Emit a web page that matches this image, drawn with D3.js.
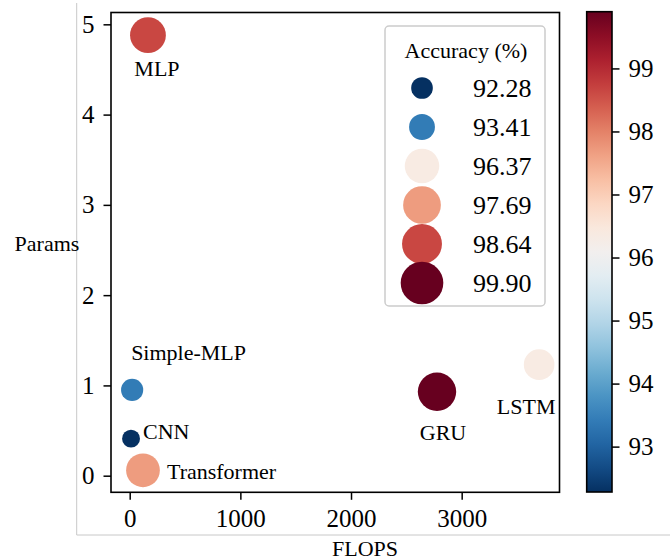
<!DOCTYPE html>
<html>
<head>
<meta charset="utf-8">
<script src="https://d3js.org/d3.v7.min.js"></script>
<style>
  body { margin: 0; background: #fff; }
  text { font-family: "Liberation Serif", "Times New Roman", serif; fill: #000; }
</style>
</head>
<body>
<div id="vis"></div>
<script>
  // models, their cost and accuracy
  var models = ["MLP", "Simple-MLP", "CNN", "Transformer", "GRU", "LSTM"]
  var flops = [165, 22, 12, 120, 2777, 3700]
  var params = [4.88, 0.95, 0.41, 0.06, 0.93, 1.23]
  var accuracy = [98.64, 93.41, 92.28, 97.69, 99.90, 96.37]

  var xTicks = [0, 1000, 2000, 3000]
  var yTicks = [0, 1, 2, 3, 4, 5]
  var cbarTicks = [93, 94, 95, 96, 97, 98, 99]
  var legendValues = [92.28, 93.41, 96.37, 97.69, 98.64, 99.90]

  var W = 670, H = 560
  var svg = d3.select("#vis").append("svg")
    .attr("width", W).attr("height", H)

  // axes box (note: "top" is reserved on window, so use ax* names)
  var axLeft = 111, axRight = 559.5, axTop = 12.5, axBottom = 492.3

  var x = d3.scaleLinear().domain([-169, 3884]).range([axLeft, axRight])
  var y = d3.scaleLinear().domain([-0.184, 5.131]).range([axBottom, axTop])

  var accMin = 92.28, accMax = 99.90
  var color = function(v) { return d3.interpolateRdBu(1 - (v - accMin) / (accMax - accMin)) }
  // marker area grows linearly with accuracy
  var area = d3.scaleLinear().domain([accMin, accMax]).range([80, 368])
  var legendArea = d3.scaleLinear().domain([accMin, accMax]).range([117, 454])

  // light outer frame
  svg.append("line").attr("x1", 76.7).attr("x2", 76.7).attr("y1", 3).attr("y2", 535)
    .attr("stroke", "#c8c8c8").attr("stroke-width", 1)
  svg.append("line").attr("x1", 76.7).attr("x2", W).attr("y1", 535).attr("y2", 535)
    .attr("stroke", "#c8c8c8").attr("stroke-width", 1)

  // axes
  var gx = svg.append("g").attr("transform", "translate(0," + axBottom + ")")
    .call(d3.axisBottom(x).tickValues(xTicks).tickFormat(d3.format("d")).tickSize(7.5).tickPadding(9))
  var gy = svg.append("g").attr("transform", "translate(" + axLeft + ",0)")
    .call(d3.axisLeft(y).tickValues(yTicks).tickFormat(d3.format("d")).tickSize(7.5).tickPadding(9))
  ;[gx, gy].forEach(function(g) {
    g.select(".domain").remove()
    g.selectAll("line").attr("stroke", "#000").attr("stroke-width", 1.5)
    g.selectAll("text").style("font-size", "25px").style("font-family", "'Liberation Serif', serif")
  })

  svg.append("rect").attr("x", axLeft).attr("y", axTop)
    .attr("width", axRight - axLeft).attr("height", axBottom - axTop)
    .attr("fill", "none").attr("stroke", "#000").attr("stroke-width", 1.6)

  // points
  var data = models.map(function(m, i) {
    return { name: m, fx: flops[i], py: params[i], acc: accuracy[i] }
  })

  svg.selectAll("circle.pt").data(data).enter().append("circle")
    .attr("class", "pt")
    .attr("cx", function(d) { return x(d.fx) })
    .attr("cy", function(d) { return y(d.py) })
    .attr("r", function(d) { return Math.sqrt(area(d.acc)) })
    .attr("fill", function(d) { return color(d.acc) })

  // label placement relative to each point (px)
  var labelOffsets = {
    "MLP": [9, 41, "middle"],
    "Simple-MLP": [-1, -30, "start"],
    "CNN": [12, 0, "start"],
    "Transformer": [24, 9, "start"],
    "GRU": [6, 48, "middle"],
    "LSTM": [-13, 49, "middle"]
  }
  svg.selectAll("text.lbl").data(data).enter().append("text")
    .attr("class", "lbl")
    .attr("x", function(d) { return x(d.fx) + labelOffsets[d.name][0] })
    .attr("y", function(d) { return y(d.py) + labelOffsets[d.name][1] })
    .attr("text-anchor", function(d) { return labelOffsets[d.name][2] })
    .style("font-size", "22px")
    .text(function(d) { return d.name })

  // axis labels
  svg.append("text").attr("x", 365).attr("y", 556).attr("text-anchor", "middle")
    .style("font-size", "22px").text("FLOPS")
  svg.append("text").attr("x", 47).attr("y", 251).attr("text-anchor", "middle")
    .style("font-size", "22px").text("Params")

  // legend
  var lg = svg.append("g")
  lg.append("rect").attr("x", 385).attr("y", 26).attr("width", 160).attr("height", 280)
    .attr("rx", 4).attr("fill", "#fff").attr("stroke", "#cccccc").attr("stroke-width", 1.5)
  lg.append("text").attr("x", 466).attr("y", 58).attr("text-anchor", "middle")
    .style("font-size", "22px").text("Accuracy (%)")
  var rowY = d3.scaleLinear().domain([0, 5]).range([88, 283])
  legendValues.forEach(function(v, i) {
    lg.append("circle").attr("cx", 422).attr("cy", rowY(i))
      .attr("r", Math.sqrt(legendArea(v))).attr("fill", color(v))
    lg.append("text").attr("x", 473).attr("y", rowY(i)).attr("dy", "0.35em")
      .style("font-size", "26px").text(v.toFixed(2))
  })

  // colorbar
  var cbL = 586.7, cbR = 612, cbT = 11.7, cbB = 492
  var defs = svg.append("defs")
  var grad = defs.append("linearGradient").attr("id", "cb")
    .attr("x1", 0).attr("y1", 1).attr("x2", 0).attr("y2", 0)
  d3.range(0, 1.0001, 0.05).forEach(function(t) {
    grad.append("stop").attr("offset", t).attr("stop-color", d3.interpolateRdBu(1 - t))
  })
  svg.append("rect").attr("x", cbL).attr("y", cbT).attr("width", cbR - cbL).attr("height", cbB - cbT)
    .attr("fill", "url(#cb)").attr("stroke", "#000").attr("stroke-width", 1.6)
  var cy = d3.scaleLinear().domain([accMin, accMax]).range([cbB, cbT])
  var gc = svg.append("g").attr("transform", "translate(" + cbR + ",0)")
    .call(d3.axisRight(cy).tickValues(cbarTicks).tickFormat(d3.format("d")).tickSize(7.5).tickPadding(9))
  gc.select(".domain").remove()
  gc.selectAll("line").attr("stroke", "#000").attr("stroke-width", 1.5)
  gc.selectAll("text").style("font-size", "25px").style("font-family", "'Liberation Serif', serif")
</script>
</body>
</html>
